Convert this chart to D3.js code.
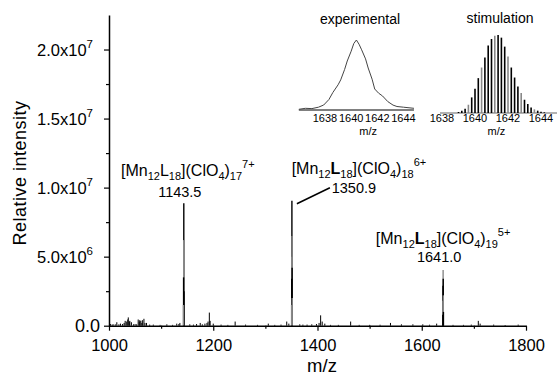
<!DOCTYPE html>
<html>
<head>
<meta charset="utf-8">
<script src="https://cdn.jsdelivr.net/npm/d3@7"></script>
<style>
  body { margin: 0; background: #fff; }
  svg { font-family: "Liberation Sans", Arial, sans-serif; }
</style>
</head>
<body>
<svg id="chart" width="557" height="375"></svg>
<script>
// main spectrum
var yTicks = [0, 5e6, 1e7, 1.5e7, 2e7];
var yTickLabels = [["0.0", ""], ["5.0x10", "6"], ["1.0x10", "7"], ["1.5x10", "7"], ["2.0x10", "7"]];
var yMinorTicks = [2.5e6, 7.5e6, 1.25e7, 1.75e7];
var xTicks = [1000, 1200, 1400, 1600, 1800];
var xMinorTicks = [1100, 1300, 1500, 1700];

// small peaks in the baseline
var noiseMz = [1003, 1006, 1008, 1012, 1015, 1019, 1022, 1026, 1029, 1031, 1034, 1036, 1037, 1039, 1040, 1043, 1047, 1050, 1053,
  1056, 1058, 1059, 1061, 1063, 1064, 1067, 1069, 1072, 1078, 1085, 1098, 1111, 1122, 1130, 1134, 1136, 1155, 1162, 1168, 1175,
  1179, 1184, 1188, 1190, 1192.5, 1194, 1200, 1215, 1228, 1242, 1262, 1285, 1305.6, 1318, 1330, 1341, 1345,
  1366, 1372, 1380, 1389, 1398, 1403, 1406, 1409, 1414, 1425, 1440, 1463.6, 1480, 1500, 1520, 1540, 1561, 1583, 1602, 1615,
  1628.6, 1660, 1680, 1695, 1708.5, 1712, 1738, 1760, 1785];
var noiseInt = [0.12e6, 0.08e6, 0.1e6, 0.1e6, 0.25e6, 0.1e6, 0.15e6, 0.12e6, 0.2e6, 0.35e6, 0.3e6, 0.45e6, 0.6e6, 0.3e6, 0.35e6, 0.25e6, 0.1e6, 0.12e6, 0.1e6,
  0.45e6, 0.3e6, 0.4e6, 0.35e6, 0.2e6, 0.4e6, 0.5e6, 0.2e6, 0.2e6, 0.08e6, 0.08e6, 0.06e6, 0.1e6, 0.06e6, 0.15e6, 0.12e6, 0.2e6, 0.1e6, 0.08e6, 0.12e6, 0.2e6,
  0.1e6, 0.15e6, 0.2e6, 0.3e6, 0.95e6, 0.35e6, 0.15e6, 0.08e6, 0.06e6, 0.3e6, 0.08e6, 0.06e6, 0.15e6, 0.06e6, 0.08e6, 0.3e6, 0.15e6,
  0.1e6, 0.08e6, 0.08e6, 0.1e6, 0.12e6, 0.2e6, 0.75e6, 0.3e6, 0.15e6, 0.06e6, 0.06e6, 0.3e6, 0.06e6, 0.06e6, 0.07e6, 0.2e6, 0.1e6, 0.1e6, 0.1e6, 0.07e6,
  0.15e6, 0.06e6, 0.06e6, 0.08e6, 0.35e6, 0.15e6, 0.08e6, 0.05e6, 0.08e6];

// isotope clusters of the three labelled ions
var peakMz = [1142.9, 1143.1, 1143.3, 1143.5, 1143.7, 1143.9,
  1350.3, 1350.5, 1350.7, 1350.9, 1351.1, 1351.3, 1351.5,
  1640.4, 1640.6, 1640.8, 1641.0, 1641.2, 1641.4, 1641.6];
var peakInt = [1.5e6, 3.5e6, 6.2e6, 8.86e6, 5.5e6, 2.5e6,
  1.5e6, 3.4e6, 5.0e6, 9.05e6, 6.5e6, 4.2e6, 2.0e6,
  0.8e6, 1.8e6, 2.9e6, 4.03e6, 3.4e6, 2.2e6, 1.0e6];

// inset: experimental envelope (relative intensity)
var expMz = [1636.0, 1636.5, 1637.0, 1637.5, 1637.9, 1638.3, 1638.6, 1639.0, 1639.2, 1639.5, 1639.7, 1640.0, 1640.2,
  1640.4, 1640.6, 1640.8, 1641.1, 1641.3, 1641.6, 1641.8, 1642.1, 1642.4, 1642.8, 1643.2, 1643.5, 1644.0, 1644.8];
var expInt = [0.01, 0.024, 0.02, 0.04, 0.071, 0.15, 0.25, 0.36, 0.43, 0.58, 0.7, 0.84, 0.95,
  1.0, 0.94, 0.86, 0.73, 0.6, 0.44, 0.3, 0.24, 0.2, 0.12, 0.07, 0.05, 0.04, 0.024];

// inset: simulated isotope pattern
var simMz = [1639.0, 1639.2, 1639.4, 1639.6, 1639.8, 1640.0, 1640.2, 1640.4, 1640.6, 1640.8, 1641.0, 1641.2, 1641.4,
  1641.6, 1641.8, 1642.0, 1642.2, 1642.4, 1642.6, 1642.8, 1643.0, 1643.2, 1643.4, 1643.6, 1643.8, 1644.0, 1644.2];
var simInt = [0.013, 0.03, 0.055, 0.106, 0.2, 0.31, 0.447, 0.583, 0.711, 0.864, 0.949, 0.991, 1.0,
  0.966, 0.851, 0.723, 0.583, 0.455, 0.34, 0.255, 0.17, 0.115, 0.072, 0.047, 0.03, 0.017, 0.009];
var insetTicks = [1638, 1640, 1642, 1644];

var svg = d3.select("#chart");

var x = d3.scaleLinear().domain([1000, 1800]).range([109, 526]);
var y = d3.scaleLinear().domain([0, 2.25e7]).range([325.7, 15]);

// spectrum sticks
var noise = d3.range(noiseMz.length).map(function(i) { return {mz: noiseMz[i], v: noiseInt[i]}; });
svg.append("g").selectAll("line").data(noise).join("line")
  .attr("x1", function(d) { return x(d.mz); }).attr("x2", function(d) { return x(d.mz); })
  .attr("y1", y(0)).attr("y2", function(d) { return y(d.v); })
  .attr("stroke", "#000").attr("stroke-width", 1);

var peaks = d3.range(peakMz.length).map(function(i) { return {mz: peakMz[i], v: peakInt[i], i: i}; });
peaks.sort(function(a, b) { return b.v - a.v; });
svg.append("g").selectAll("line").data(peaks).join("line")
  .attr("x1", function(d) { return x(d.mz); }).attr("x2", function(d) { return x(d.mz); })
  .attr("y1", y(0)).attr("y2", function(d) { return y(d.v); })
  .attr("stroke", function(d) { return d.i % 2 ? "#000" : "#888"; })
  .attr("stroke-width", 1.4);

// axes
var yAxis = svg.append("g").attr("transform", "translate(109,0)")
  .call(d3.axisLeft(y).tickValues(yTicks).tickSize(5).tickSizeOuter(0).tickFormat(""));
svg.append("g").attr("transform", "translate(109,0)")
  .call(d3.axisLeft(y).tickValues(yMinorTicks).tickSize(3).tickSizeOuter(0).tickFormat(""))
  .select(".domain").remove();
var xAxis = svg.append("g").attr("transform", "translate(0," + y(0) + ")")
  .call(d3.axisBottom(x).tickValues(xTicks).tickSize(5).tickSizeOuter(0).tickFormat(d3.format("d")));
svg.append("g").attr("transform", "translate(0," + y(0) + ")")
  .call(d3.axisBottom(x).tickValues(xMinorTicks).tickSize(3).tickSizeOuter(0).tickFormat(""))
  .select(".domain").remove();

svg.selectAll(".domain").attr("stroke-width", 1.5);
svg.selectAll(".tick line").attr("stroke-width", 1.2);
xAxis.attr("font-family", null);
yAxis.attr("font-family", null);
xAxis.selectAll("text").attr("font-size", 16.5).attr("fill", "#000").attr("y", 10).attr("dy", "0.95em");

// y tick labels with exponent
yTicks.forEach(function(t, i) {
  var hasExp = yTickLabels[i][1] !== "";
  var tx = svg.append("text").attr("x", hasExp ? 93 : 100).attr("y", y(t) + 6)
    .attr("text-anchor", "end").attr("font-size", hasExp ? 16.5 : 18);
  tx.append("tspan").text(yTickLabels[i][0]);
  if (hasExp) {
    tx.append("tspan").attr("dy", -7.5).attr("font-size", 11.5).text(yTickLabels[i][1]);
  }
});

svg.append("text").attr("x", 322).attr("y", 372).attr("text-anchor", "middle")
  .attr("font-size", 18.5).text("m/z");
svg.append("text").attr("transform", "translate(26,173) rotate(-90)").attr("text-anchor", "middle")
  .attr("font-size", 18).attr("letter-spacing", 0.5).text("Relative intensity");

// ion annotations
function formula(cx, by, nCl, charge, boldL) {
  var t = svg.append("text").attr("x", cx).attr("y", by).attr("text-anchor", "middle").attr("font-size", 16);
  t.append("tspan").text("[Mn");
  t.append("tspan").attr("dy", 3.5).attr("font-size", 11).text("12");
  t.append("tspan").attr("dy", -3.5).attr("font-weight", boldL ? "bold" : null).text("L");
  t.append("tspan").attr("dy", 3.5).attr("font-size", 11).text("18");
  t.append("tspan").attr("dy", -3.5).text("](ClO");
  t.append("tspan").attr("dy", 3.5).attr("font-size", 11).text("4");
  t.append("tspan").attr("dy", -3.5).text(")");
  t.append("tspan").attr("dy", 3.5).attr("font-size", 11).text(nCl);
  t.append("tspan").attr("dy", -11.5).attr("font-size", 11).text(charge);
}
function mzLabel(cx, by, s) {
  svg.append("text").attr("x", cx).attr("y", by).attr("text-anchor", "middle").attr("font-size", 14.5).text(s);
}

formula(x(1143.5) + 4, 176, "17", "7+", false);
mzLabel(x(1143.5) - 4, 196.5, "1143.5");
formula(x(1350.9) + 67, 174, "18", "6+", true);
mzLabel(x(1350.9) + 62, 192.5, "1350.9");
svg.append("line")
  .attr("x1", x(1350.9) + 5).attr("y1", y(9.05e6) + 3)
  .attr("x2", x(1350.9) + 38).attr("y2", y(9.05e6) - 13)
  .attr("stroke", "#000").attr("stroke-width", 1.5);
formula(x(1641.0), 244, "19", "5+", true);
mzLabel(x(1641.0) - 4, 262, "1641.0");

// inset: experimental
var xe = d3.scaleLinear().domain([1638, 1644]).range([325, 403.5]);
var ye = d3.scaleLinear().domain([0, 1]).range([110, 40]);
svg.append("line").attr("x1", xe(1636.0)).attr("x2", xe(1644.8)).attr("y1", ye(0)).attr("y2", ye(0))
  .attr("stroke", "#000").attr("stroke-width", 1);
var expPts = d3.range(expMz.length).map(function(i) { return [expMz[i], expInt[i]]; });
svg.append("path").datum(expPts)
  .attr("d", d3.line().x(function(d) { return xe(d[0]); }).y(function(d) { return ye(d[1]); }))
  .attr("fill", "none").attr("stroke", "#444").attr("stroke-width", 1);

// inset: simulation
var xs = d3.scaleLinear().domain([1638, 1644]).range([442, 541]);
var ys = d3.scaleLinear().domain([0, 1]).range([113, 35]);
svg.append("line").attr("x1", 440).attr("x2", 557).attr("y1", ys(0)).attr("y2", ys(0))
  .attr("stroke", "#999").attr("stroke-width", 1.5);
var simBars = d3.range(simMz.length).map(function(i) { return {mz: simMz[i], v: simInt[i], i: i}; });
svg.append("g").selectAll("line").data(simBars).join("line")
  .attr("x1", function(d) { return xs(d.mz); }).attr("x2", function(d) { return xs(d.mz); })
  .attr("y1", ys(0)).attr("y2", function(d) { return ys(d.v); })
  .attr("stroke", function(d) { return d.i % 4 === 3 ? "#888" : "#000"; })
  .attr("stroke-width", 1.6);

[[xe, "experimental", 360, 24], [xs, "stimulation", 500, 23]].forEach(function(p) {
  var sc = p[0];
  svg.append("text").attr("x", p[2]).attr("y", p[3]).attr("text-anchor", "middle").attr("font-size", 14).text(p[1]);
  svg.append("g").selectAll("text").data(insetTicks).join("text")
    .attr("x", function(d) { return sc(d); }).attr("y", 122)
    .attr("text-anchor", "middle").attr("font-size", 11).text(function(d) { return d; });
  svg.append("text").attr("x", sc(1641.3)).attr("y", 134.5).attr("text-anchor", "middle")
    .attr("font-size", 11).text("m/z");
});
</script>
</body>
</html>
